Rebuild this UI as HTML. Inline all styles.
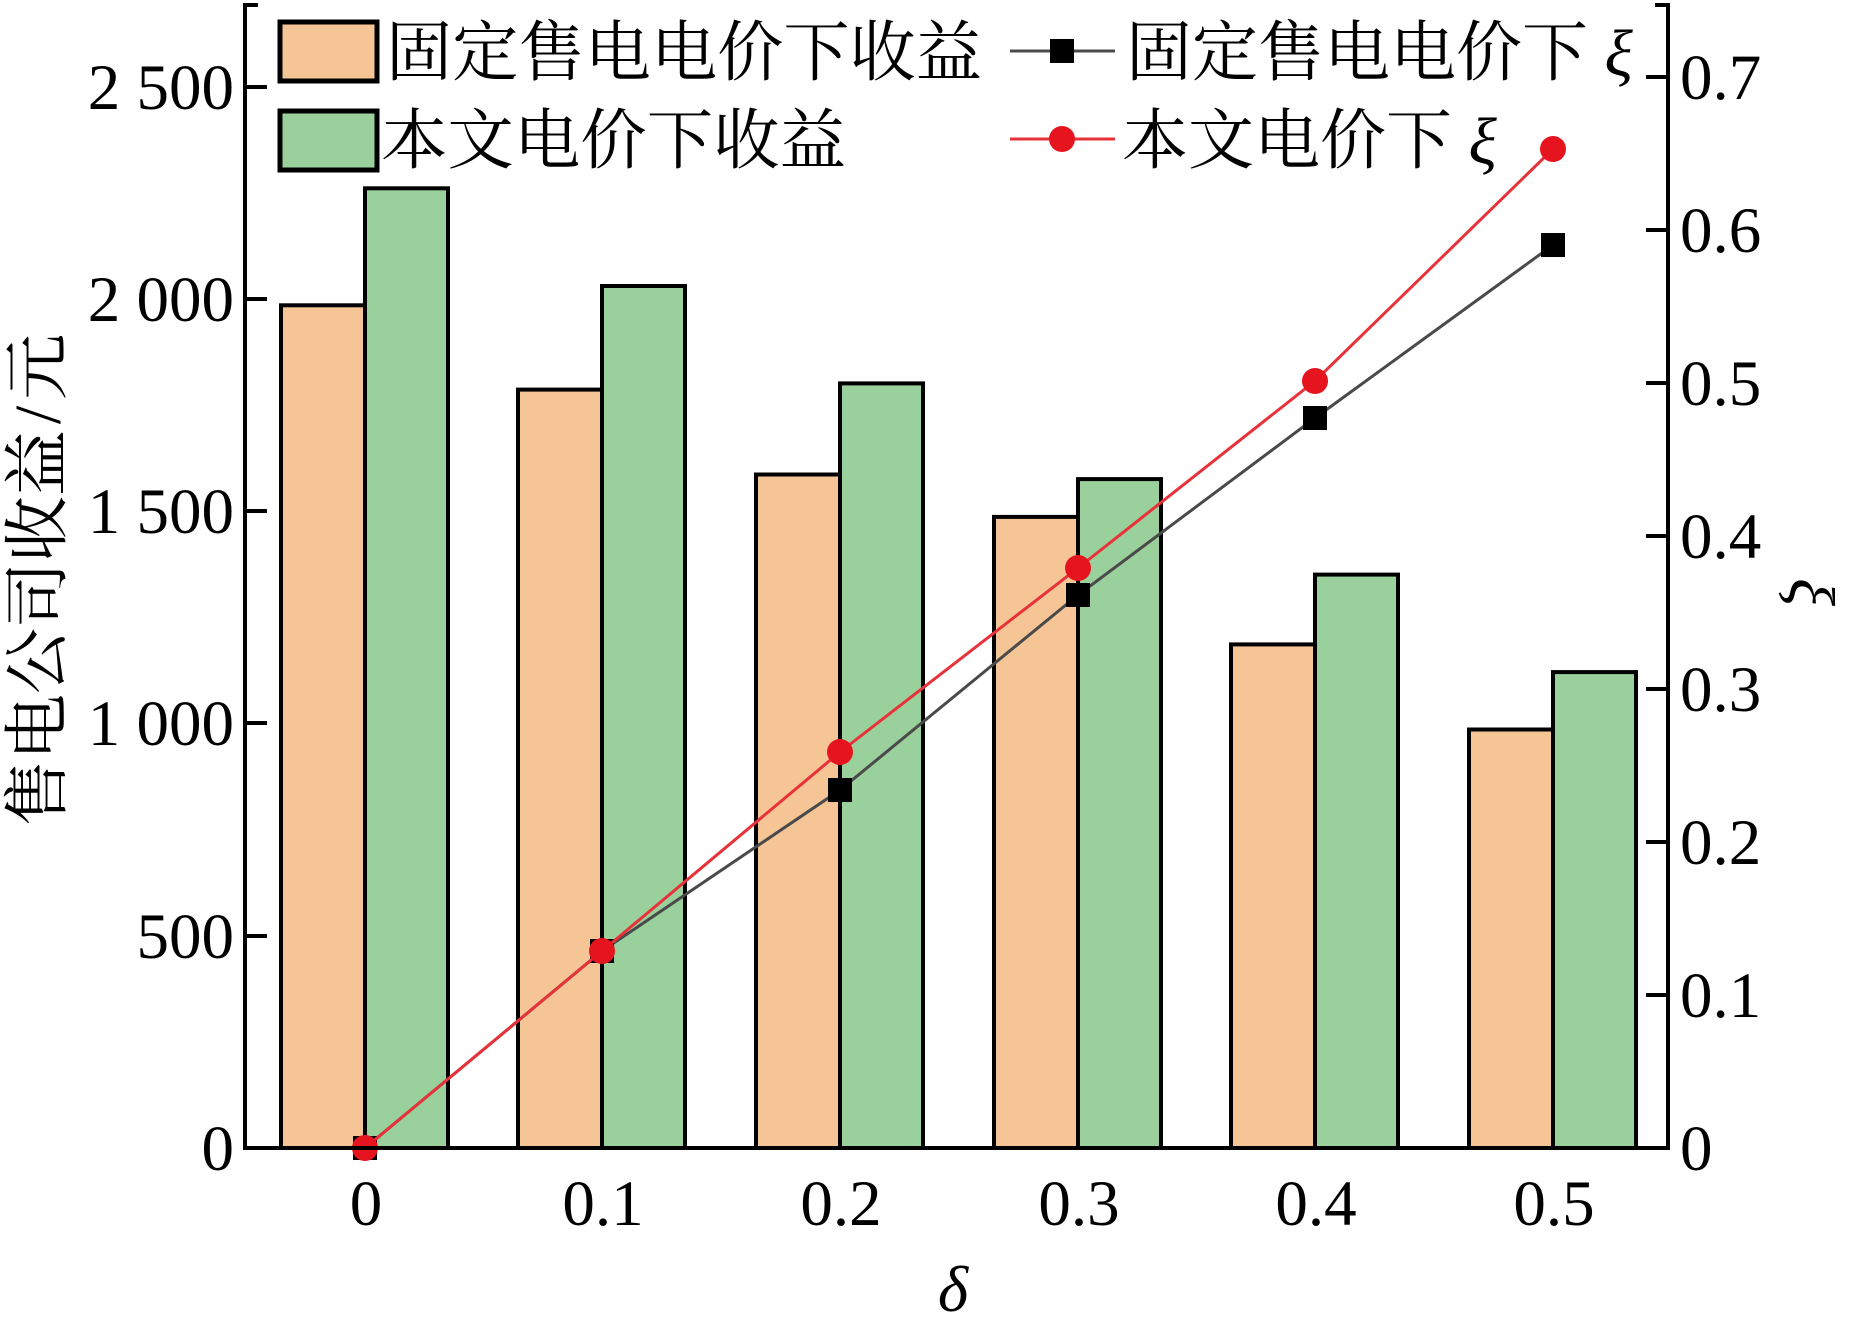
<!DOCTYPE html>
<html><head><meta charset="utf-8"><style>
html,body{margin:0;padding:0;background:#fff;}
svg{display:block}
text{font-family:"Liberation Serif","Noto Serif CJK SC",serif;fill:#000}
</style></head><body>
<svg width="1852" height="1331" viewBox="0 0 1852 1331" xmlns="http://www.w3.org/2000/svg">
<g stroke="#000" stroke-width="4">
<rect x="281" y="305.3" width="84" height="842.7" fill="#f5c596"/>
<rect x="365" y="188.3" width="83" height="959.7" fill="#9ad09c"/>
<rect x="518" y="389.6" width="84" height="758.4" fill="#f5c596"/>
<rect x="602" y="286.0" width="83" height="862" fill="#9ad09c"/>
<rect x="756" y="474.5" width="84" height="673.5" fill="#f5c596"/>
<rect x="840" y="383.4" width="83" height="764.6" fill="#9ad09c"/>
<rect x="994" y="516.9" width="84" height="631.1" fill="#f5c596"/>
<rect x="1078" y="479.1" width="83" height="668.9" fill="#9ad09c"/>
<rect x="1231" y="644.4" width="84" height="503.6" fill="#f5c596"/>
<rect x="1315" y="574.6" width="83" height="573.4" fill="#9ad09c"/>
<rect x="1469" y="729.5" width="84" height="418.5" fill="#f5c596"/>
<rect x="1553" y="672.1" width="83" height="475.9" fill="#9ad09c"/>
</g>
<polyline fill="none" stroke="#4a4a4a" stroke-width="3" points="365,1148 602,951 840,790 1078,595 1315,418 1553,245"/>
<g fill="#000">
<rect x="353" y="1136" width="24" height="24"/>
<rect x="590" y="939" width="24" height="24"/>
<rect x="828" y="778" width="24" height="24"/>
<rect x="1066" y="583" width="24" height="24"/>
<rect x="1303" y="406" width="24" height="24"/>
<rect x="1541" y="233" width="24" height="24"/>
</g>
<polyline fill="none" stroke="#e8323a" stroke-width="3" points="365,1148 602,951 840,752 1078,568 1315,381 1553,149"/>
<g fill="#e5141e">
<circle cx="365" cy="1148" r="13"/><circle cx="602" cy="951" r="13"/><circle cx="840" cy="752" r="13"/>
<circle cx="1078" cy="568" r="13"/><circle cx="1315" cy="381" r="13"/><circle cx="1553" cy="149" r="13"/>
</g>
<g stroke="#000" stroke-width="4" fill="none">
<line x1="245" y1="3" x2="245" y2="1150"/>
<line x1="1668" y1="3" x2="1668" y2="1150"/>
<line x1="243" y1="1148" x2="1670" y2="1148"/>
<line x1="245" y1="5" x2="258" y2="5"/>
<line x1="1655" y1="5" x2="1668" y2="5"/>
<line x1="245" y1="936" x2="267" y2="936"/><line x1="245" y1="723" x2="267" y2="723"/>
<line x1="245" y1="511" x2="267" y2="511"/><line x1="245" y1="299" x2="267" y2="299"/>
<line x1="245" y1="87" x2="267" y2="87"/>
<line x1="1646" y1="995" x2="1668" y2="995"/><line x1="1646" y1="842" x2="1668" y2="842"/>
<line x1="1646" y1="689" x2="1668" y2="689"/><line x1="1646" y1="536" x2="1668" y2="536"/>
<line x1="1646" y1="383" x2="1668" y2="383"/><line x1="1646" y1="230" x2="1668" y2="230"/>
<line x1="1646" y1="77" x2="1668" y2="77"/>
</g>
<g font-size="65" text-anchor="end">
<text x="234" y="1170">0</text><text x="234" y="958">500</text><text x="234" y="745">1 000</text>
<text x="234" y="533">1 500</text><text x="234" y="321">2 000</text><text x="234" y="109">2 500</text>
</g>
<g font-size="65">
<text x="1680" y="1170">0</text><text x="1680" y="1017">0.1</text><text x="1680" y="864">0.2</text>
<text x="1680" y="711">0.3</text><text x="1680" y="558">0.4</text><text x="1680" y="405">0.5</text>
<text x="1680" y="252">0.6</text><text x="1680" y="99">0.7</text>
</g>
<g font-size="65" text-anchor="middle">
<text x="366" y="1225">0</text><text x="603" y="1225">0.1</text><text x="841" y="1225">0.2</text>
<text x="1079" y="1225">0.3</text><text x="1316" y="1225">0.4</text><text x="1554" y="1225">0.5</text>
<text x="953" y="1311" font-style="italic">δ</text>
</g>
<text transform="translate(60,580) rotate(-90)" font-size="66" text-anchor="middle">售电公司收益<tspan dx="6">/</tspan><tspan dx="6">元</tspan></text>
<text transform="translate(1790,592) rotate(90)" font-size="65" text-anchor="middle" font-style="italic">ξ</text>
<rect x="280" y="22" width="97" height="59" fill="#f5c596" stroke="#000" stroke-width="5"/>
<rect x="280" y="111" width="97" height="59" fill="#9ad09c" stroke="#000" stroke-width="5"/>
<g font-size="66">
<text x="386" y="75" textLength="596" lengthAdjust="spacingAndGlyphs">固定售电电价下收益</text>
<text x="381" y="163" textLength="465" lengthAdjust="spacingAndGlyphs">本文电价下收益</text>
<text x="1126" y="75">固定售电电价下 <tspan font-style="italic">ξ</tspan></text>
<text x="1122" y="163">本文电价下 <tspan font-style="italic">ξ</tspan></text>
</g>
<line x1="1010" y1="51" x2="1115" y2="51" stroke="#4a4a4a" stroke-width="3"/>
<rect x="1050" y="39" width="24" height="24" fill="#000"/>
<line x1="1010" y1="139" x2="1115" y2="139" stroke="#e8323a" stroke-width="3"/>
<circle cx="1062" cy="139" r="13" fill="#e5141e"/>
</svg>
</body></html>
